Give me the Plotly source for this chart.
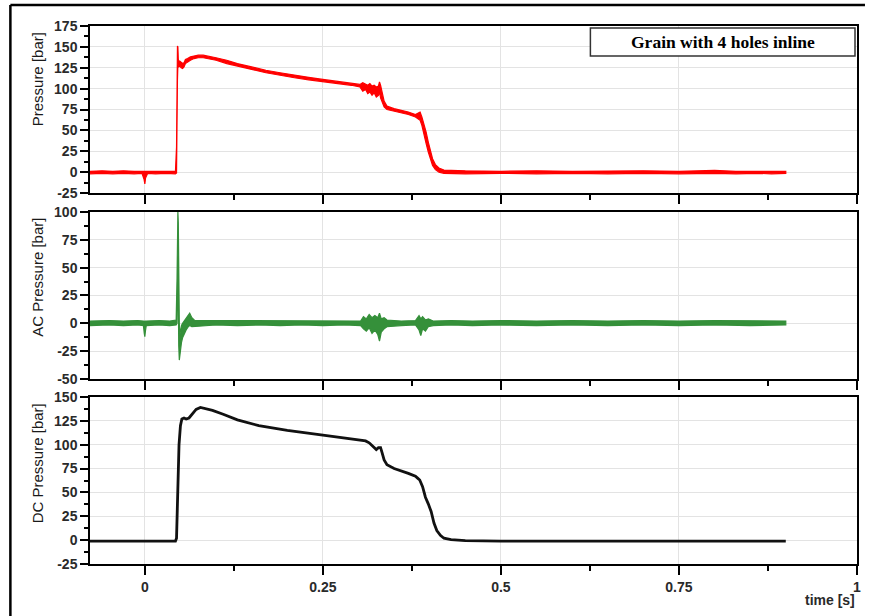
import plotly.graph_objects as go

# ---------------- data ----------------
# Panel 1: Pressure [bar] — noisy trace, stored as its vertical extent (lo/hi) at time t
red_t = [-0.077, -0.06, -0.045, -0.03, -0.015, -0.004, -0.001, 0.0, 0.001, 0.004,
         0.015, 0.03, 0.043, 0.0445, 0.0452, 0.0458, 0.0464, 0.0470, 0.0478, 0.049,
         0.051, 0.053, 0.055, 0.057, 0.060, 0.064, 0.069, 0.075, 0.082, 0.090,
         0.100, 0.115, 0.130, 0.150, 0.170, 0.190, 0.210, 0.230, 0.250, 0.270,
         0.290, 0.302, 0.306, 0.310, 0.313, 0.316, 0.319, 0.322, 0.325, 0.328,
         0.3295, 0.331, 0.333, 0.336, 0.340, 0.350, 0.360, 0.370, 0.380, 0.384,
         0.3865, 0.389, 0.392, 0.395, 0.398, 0.401, 0.404, 0.408, 0.413, 0.420,
         0.430, 0.450, 0.500, 0.550, 0.600, 0.650, 0.700, 0.750, 0.800, 0.830,
         0.860, 0.880, 0.900]
red_lo = [-2, -1.5, -2, -1.5, -2, -1.5, -9, -14, -7, -1.5,
          -2, -1.5, -2, -1, 40, 110, 128, 127, 126, 127,
          125, 124, 126, 130, 132, 134, 136, 137, 137, 136,
          134, 130, 127, 123, 119, 116, 113, 110.5, 108, 106,
          104, 102, 97, 99, 94, 96, 92, 95, 90, 92,
          96, 89, 84, 78, 75, 73, 71, 69, 66, 64,
          62, 56, 46, 34, 24, 15, 8, 3, 0, -1.5,
          -1.5, -2, -1.5, -2, -1.5, -2, -1.5, -2, -1.5, -2,
          -1.5, -2, -1.5]
red_hi = [1, 1.5, 1, 1.5, 1, 1, 1, 1.5, 1.5, 1.5,
          1, 1.5, 1, 30, 120, 151, 150, 135, 133, 133,
          132, 130, 131, 135, 136, 138, 139, 140, 140, 139,
          137, 134, 130, 126, 122, 119, 116, 113.5, 111, 109,
          107, 105, 107, 105, 104, 106, 103, 104, 102, 103,
          108, 104, 95, 85, 79, 76, 74, 72, 69, 71,
          72, 66, 58, 48, 36, 26, 16, 9, 5, 2.5,
          2, 1.5, 1, 1.5, 1, 1.5, 1.5, 1, 2, 1,
          1.5, 1, 1]

# Panel 2: AC Pressure [bar]
ac_t = [-0.077, -0.05, -0.03, -0.01, -0.002, -0.0008, 0.0, 0.0008, 0.002, 0.02,
        0.035, 0.044, 0.0452, 0.0458, 0.0464, 0.0470, 0.0476, 0.0484, 0.0492, 0.050,
        0.0515, 0.053, 0.055, 0.058, 0.061, 0.063, 0.066, 0.070, 0.080, 0.10,
        0.13, 0.16, 0.19, 0.22, 0.25, 0.28, 0.303, 0.307, 0.311, 0.315,
        0.319, 0.323, 0.327, 0.3295, 0.332, 0.336, 0.340, 0.36, 0.38, 0.385,
        0.3875, 0.390, 0.394, 0.398, 0.405, 0.43, 0.46, 0.50, 0.55, 0.60,
        0.65, 0.70, 0.75, 0.80, 0.85, 0.90]
ac_lo = [-2, -1.5, -2, -1.5, -2, -9, -12, -7, -2, -1.5,
         -2, -1.5, 0, 30, 60, 10, -20, -33, -30, -24,
         -17, -13, -10, -6, -3, -2, -3, -2.5, -2, -1.5,
         -2, -1.5, -2, -1.5, -2, -1.5, -2, -5, -7, -4,
         -9, -6, -10, -16, -8, -5, -3, -2, -1.5, -6,
         -11, -5, -7, -3, -2, -1.5, -2, -1.5, -2, -1.5,
         -2, -1.5, -2, -1.5, -2, -1.5]
ac_hi = [2, 2.5, 2, 2.5, 2, 2, 1, 2, 2, 2.5,
         2, 3, 40, 100, 100, 90, 30, 0, -10, -6,
         -2, 0, 2, 4, 7, 9, 5, 2.5, 2.5, 2.5,
         2, 2.5, 2, 2.5, 2, 2.5, 2, 6, 4, 8,
         5, 7, 5, 9, 4, 5, 3, 2, 2.5, 7,
         4, 6, 3, 4, 2, 2.5, 2, 2.5, 2, 2.5,
         2, 2.5, 2, 2.5, 2, 2]

# Panel 3: DC Pressure [bar]
dc_t = [-0.077, 0.0, 0.043, 0.0445, 0.046, 0.048, 0.050, 0.052, 0.055, 0.058,
        0.062, 0.067, 0.072, 0.078, 0.085, 0.095, 0.110, 0.130, 0.160, 0.200,
        0.250, 0.290, 0.310, 0.315, 0.318, 0.322, 0.325, 0.328, 0.331, 0.333,
        0.336, 0.340, 0.350, 0.370, 0.380, 0.383, 0.386, 0.390, 0.394, 0.398,
        0.402, 0.406, 0.410, 0.415, 0.420, 0.430, 0.450, 0.500, 0.900]
dc_v = [-1, -1, -1, 2, 50, 100, 120, 127, 128, 127,
        128, 133, 137, 139, 138, 136, 132, 126, 120, 115,
        110, 106, 104, 102, 100, 97, 95, 97, 97, 92,
        84, 79, 75, 70, 67, 65, 63, 56, 45, 38,
        30, 18, 10, 5, 2, 0.5, -0.5, -1, -1]

x_ticks = [0, 0.25, 0.5, 0.75, 1]
x_labels = ["0", "0.25", "0.5", "0.75", "1"]
y1_ticks = [-25, 0, 25, 50, 75, 100, 125, 150, 175]
y2_ticks = [-50, -25, 0, 25, 50, 75, 100]
y3_ticks = [-25, 0, 25, 50, 75, 100, 125, 150]
y1_range, y2_range, y3_range = [-25, 175], [-50, 100], [-25, 150]
titles = ["Pressure [bar]", "AC Pressure [bar]", "DC Pressure [bar]"]
legend_text = "Grain with 4 holes inline"

assert len(red_t) == len(red_lo) == len(red_hi)
assert len(ac_t) == len(ac_lo) == len(ac_hi)
assert len(dc_t) == len(dc_v)

# ---------------- figure ----------------
RED = "#ff0000"
GREEN = "#35903a"
BLACK = "#111111"

fig = go.Figure()


def band(t, lo, hi, color, xa, ya):
    fig.add_trace(go.Scatter(
        x=list(t) + list(t[::-1]), y=list(hi) + list(lo[::-1]),
        fill="toself", fillcolor=color, mode="lines",
        line=dict(color=color, width=1.2), xaxis=xa, yaxis=ya,
        hoverinfo="skip", showlegend=False))


band(red_t, red_lo, red_hi, RED, "x", "y")
band(ac_t, ac_lo, ac_hi, GREEN, "x2", "y2")
fig.add_trace(go.Scatter(x=dc_t, y=dc_v, mode="lines",
                         line=dict(color=BLACK, width=2.8),
                         xaxis="x3", yaxis="y3", showlegend=False))

# panel domains (pixels: 26-193, 212-379, 397-564 of a 538 px tall plot area)
doms = [[0.6896, 1.0], [0.3439, 0.6543], [0.0, 0.3104]]

tickfont = dict(family="Liberation Sans, Arial", size=14, color="#2a2a2a")


def bold(vals):
    return ["<b>%s</b>" % v for v in vals]


def xaxis(anchor, show):
    return dict(range=[-0.077, 1], domain=[0, 1], anchor=anchor,
                tickvals=x_ticks, ticktext=bold(x_labels), showticklabels=show,
                ticks="outside", ticklen=9, tickwidth=1.5, tickcolor="black",
                showline=True, linecolor="black", linewidth=1.5, mirror=True,
                showgrid=True, gridcolor="#e3e3e3", gridwidth=1, zeroline=False,
                tickfont=tickfont,
                minor=dict(dtick=0.125, tick0=0, ticks="outside", ticklen=5,
                           tickwidth=1.5, tickcolor="black", showgrid=False))


def yaxis(rng, ticks, dom, anchor):
    return dict(range=rng, domain=dom, anchor=anchor,
                tickvals=ticks, ticktext=bold(ticks),
                ticks="outside", ticklen=8, tickwidth=1.5, tickcolor="black",
                showline=True, linecolor="black", linewidth=1.5, mirror=True,
                showgrid=True, gridcolor="#e3e3e3", gridwidth=1, zeroline=False,
                tickfont=tickfont,
                minor=dict(dtick=12.5, tick0=0, ticks="outside", ticklen=4,
                           tickwidth=1.5, tickcolor="black", showgrid=False))


fig.update_layout(
    width=869, height=616,
    margin=dict(l=90, r=8, t=26, b=52),
    paper_bgcolor="white", plot_bgcolor="white",
    xaxis=xaxis("y", False), yaxis=yaxis(y1_range, y1_ticks, doms[0], "x"),
    xaxis2=xaxis("y2", False), yaxis2=yaxis(y2_range, y2_ticks, doms[1], "x2"),
    xaxis3=xaxis("y3", True), yaxis3=yaxis(y3_range, y3_ticks, doms[2], "x3"),
)

ann = []
for title, dom in zip(titles, doms):
    ann.append(dict(text=title, xref="paper", yref="paper", x=-0.0687,
                    y=dom[1] - 4 / 538.0,
                    xanchor="center", yanchor="top", textangle=-90, showarrow=False,
                    font=dict(family="Liberation Sans, Arial", size=15, color="#1a1a1a")))
ann.append(dict(text="<b>time [s]</b>", xref="paper", yref="paper", x=1.0, y=-0.066,
                xanchor="right", yanchor="middle", showarrow=False,
                font=dict(family="Liberation Sans, Arial", size=14, color="#2a2a2a")))
ann.append(dict(text="<b>" + legend_text + "</b>", xref="paper", yref="paper",
                x=0.8249, y=0.9703,
                xanchor="center", yanchor="middle", showarrow=False,
                font=dict(family="Liberation Serif, Times New Roman", size=17.5,
                          color="black")))
fig.update_layout(annotations=ann)

shapes = [
    # legend box
    dict(type="rect", xref="paper", yref="paper", x0=0.6524, x1=0.9974,
         y0=0.9442, y1=0.9963, line=dict(color="#333333", width=1.5),
         fillcolor="white", layer="above"),
    # outer frame (left and top edges)
    dict(type="line", xref="paper", yref="paper", x0=-0.1038, x1=-0.1038,
         y0=-0.0967, y1=1.0390, line=dict(color="black", width=2.5)),
    dict(type="line", xref="paper", yref="paper", x0=-0.1038, x1=1.0104,
         y0=1.0390, y1=1.0390, line=dict(color="black", width=2.5)),
]
fig.update_layout(shapes=shapes)

fig.write_html("out.html")
